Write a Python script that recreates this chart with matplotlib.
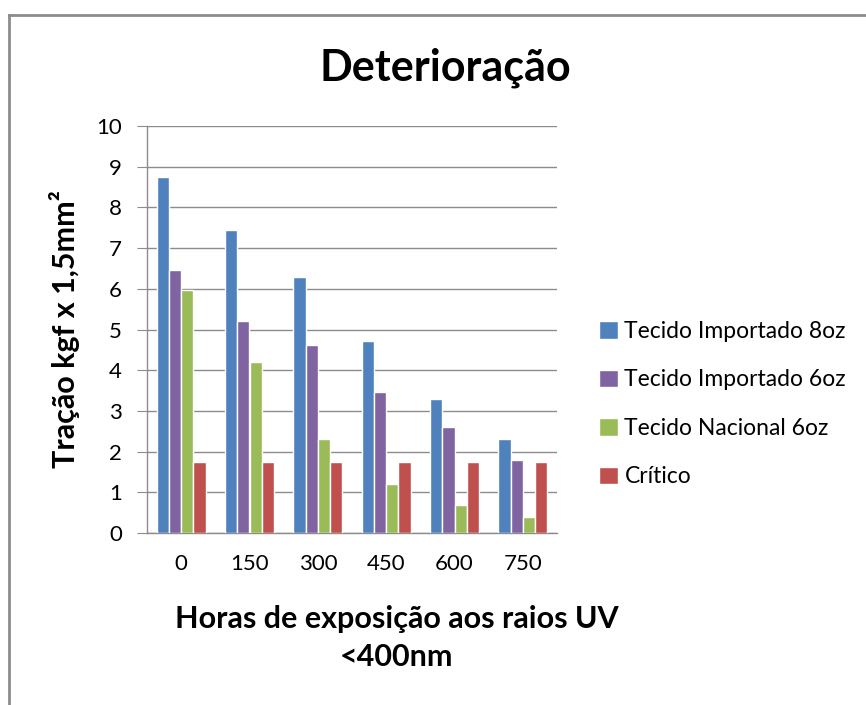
import matplotlib
matplotlib.use("Agg")
import matplotlib.pyplot as plt
from matplotlib.lines import Line2D
import numpy as np

plt.rcParams['font.family'] = ['Lato', 'DejaVu Sans']

categories = ["0", "150", "300", "450", "600", "750"]
series_names = ["Tecido Importado 8oz", "Tecido Importado 6oz", "Tecido Nacional 6oz", "Crítico"]
importado_8oz = [8.75, 7.45, 6.3, 4.72, 3.3, 2.3]
importado_6oz = [6.45, 5.2, 4.63, 3.46, 2.6, 1.8]
nacional_6oz = [5.97, 4.2, 2.3, 1.2, 0.7, 0.4]
critico = [1.75, 1.75, 1.75, 1.75, 1.75, 1.75]
yticks = list(range(0, 11))

colors = ["#4F81BD", "#8064A2", "#9BBB59", "#C0504D"]
series = [importado_8oz, importado_6oz, nacional_6oz, critico]

W, H = 866, 705
fig = plt.figure(figsize=(W / 100, H / 100), dpi=100)
ax = fig.add_axes([147 / W, 1 - 533 / H, (557 - 147) / W, (533 - 126) / H])

x = np.arange(len(categories))
bw = 0.18
for i, (vals, c, name) in enumerate(zip(series, colors, series_names)):
    ax.bar(x + (i - 1.5) * bw, vals, width=bw, color=c, edgecolor="white",
           linewidth=1.0, label=name, zorder=3)

ax.set_xlim(-0.5, len(categories) - 0.5)
ax.set_ylim(0, 10)
ax.set_yticks(yticks)
ax.set_xticks(x)
ax.set_xticklabels(categories)
ax.yaxis.grid(True, color="#8c8c8c", linewidth=1.0, zorder=0)
ax.set_axisbelow(True)
for s in ["top", "right"]:
    ax.spines[s].set_visible(False)
for s in ["left", "bottom"]:
    ax.spines[s].set_color("#8c8c8c")
    ax.spines[s].set_linewidth(1.0)
ax.tick_params(axis="y", length=7, color="#8c8c8c", labelsize=16, pad=11)
ax.tick_params(axis="x", length=0, labelsize=16, pad=15)

ax.set_ylabel("Tração kgf x 1,5mm²", fontsize=22, fontweight="bold", labelpad=12)
fig.text(397 / W, 1 - 638 / H, "Horas de exposição aos raios UV\n<400nm", fontsize=22,
         fontweight="bold", ha="center", va="center", linespacing=1.45,
         multialignment="center")
fig.text(445 / W, 1 - 68 / H, "Deterioração", fontsize=31, fontweight="bold",
         ha="center", va="center")

fig.legend(loc="center left", bbox_to_anchor=(590 / W, 1 - 404 / H), frameon=False,
           fontsize=16.5, handlelength=0.8, handleheight=0.8, handletextpad=0.3,
           labelspacing=1.2, borderaxespad=0)

# outer frame
fig.add_artist(Line2D([9 / W, 9 / W], [0, 1 - 15 / H], transform=fig.transFigure,
                      color="#8c8c8c", linewidth=2))
fig.add_artist(Line2D([9 / W, 1], [1 - 15 / H, 1 - 15 / H], transform=fig.transFigure,
                      color="#8c8c8c", linewidth=2))

fig.savefig("out.png", dpi=100)
